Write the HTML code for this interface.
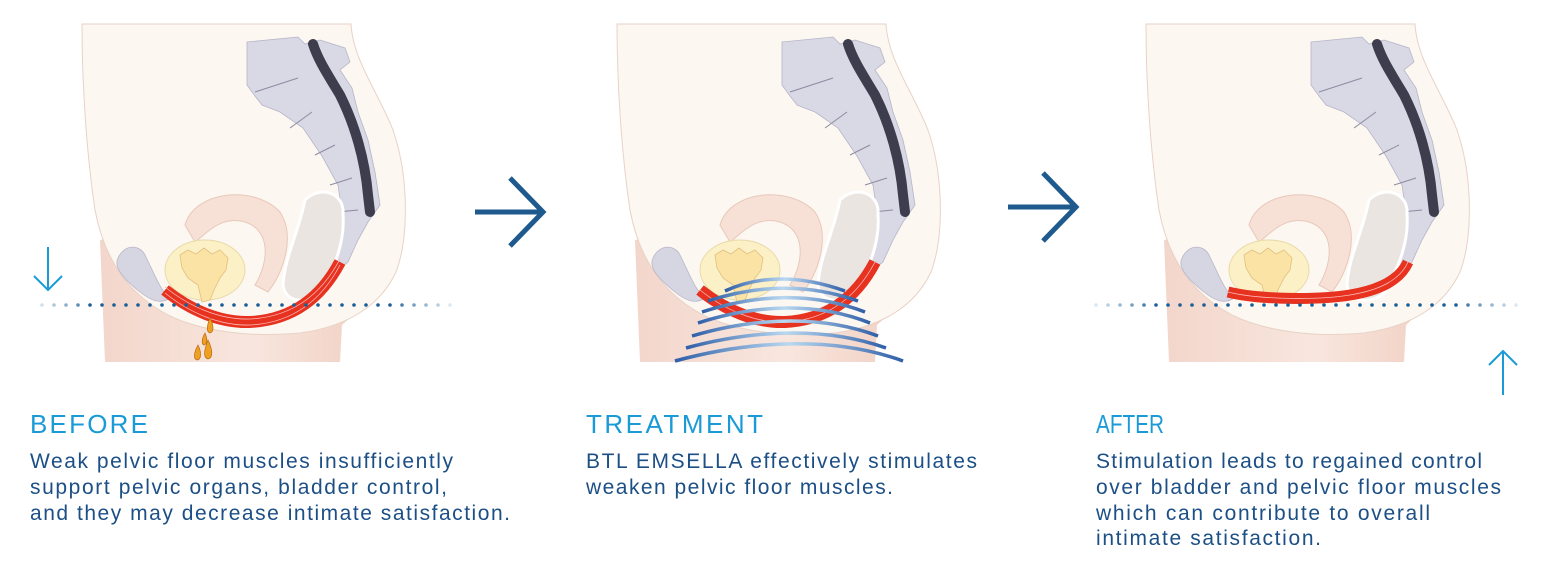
<!DOCTYPE html>
<html><head><meta charset="utf-8"><style>
html,body{margin:0;padding:0;background:#fff;}
svg{display:block;}
.h{font-family:"Liberation Sans",sans-serif;font-size:26px;fill:#1a9ad6;}
.t{font-family:"Liberation Sans",sans-serif;font-size:21px;fill:#1c4f86;}
</style></head><body>
<svg width="1552" height="575" viewBox="0 0 1552 575" xmlns="http://www.w3.org/2000/svg">
<defs>
<linearGradient id="leg" x1="0" x2="1" y1="0" y2="0">
<stop offset="0" stop-color="#f3d6cb"/><stop offset="0.5" stop-color="#f8e6de"/><stop offset="1" stop-color="#efc9ba"/></linearGradient>
<linearGradient id="wave" x1="0" x2="1"><stop offset="0" stop-color="#2f5fa8"/><stop offset="0.5" stop-color="#b9d8f0"/><stop offset="1" stop-color="#2f5fa8"/></linearGradient>
<g id="body">
<path d="M100,240 L105,362 L340,362 L342,325 C370,300 402,265 404,220 L404,190 Z" fill="url(#leg)"/>
<path d="M82,24 L351,24 C353,60 378,92 393,130 C410,180 408,240 396,272 C382,302 352,326 300,333 C250,338 200,331 168,315 C128,294 104,258 95,210 C86,150 82,80 82,24 Z" fill="#fcf7f1" stroke="#e9d2c6" stroke-width="1"/>
<path d="M247,42 L298,37 L305,44 L320,40 L345,48 L350,62 L340,70 L352,88 L358,112 L368,140 L375,172 L380,205 L368,222 L358,240 L348,262 L335,272 L320,290 L316,280 L330,262 L338,240 L342,212 L338,185 L322,156 L303,128 L280,112 L262,105 L255,96 L247,85 Z" fill="#d9d8e5" stroke="#b7b5c8" stroke-width="0.8"/>
<path d="M313,44 C318,60 328,75 340,95 C355,125 365,160 368,195 L370,212" fill="none" stroke="#3d3d4e" stroke-width="10" stroke-linecap="round"/>
<path d="M255,92 L298,78 M290,128 L312,112 M315,155 L335,145 M330,185 L352,178 M338,212 L358,210" stroke="#8d8ba0" stroke-width="1"/>
<path d="M185,225 C195,190 255,185 280,212 C295,235 285,270 268,292 L255,285 C270,260 270,230 245,222 C220,215 205,235 195,242 Z" fill="#f7e1d6" stroke="#e8c8ba" stroke-width="1"/>
<path d="M305,200 C320,185 345,192 343,215 C345,240 335,270 318,295 C300,305 285,300 283,285 C285,255 298,235 305,200 Z" fill="#ebe5e2" stroke="#fff" stroke-width="3"/>
<path d="M118,258 C125,243 140,245 145,255 C155,275 160,290 170,298 C160,305 150,300 140,292 C125,280 113,268 118,258 Z" fill="#d6d5e2" stroke="#b9b7c9" stroke-width="0.8"/>
<ellipse cx="205" cy="270" rx="40" ry="30" fill="#fcf0c6" stroke="#e8d9a8" stroke-width="1"/>
<path d="M180,255 L188,250 L196,254 L204,248 L212,254 L220,250 L228,258 L226,270 L220,278 L214,290 L210,300 L202,302 L198,285 L188,278 L182,268 Z" fill="#fbe3a6" stroke="#e0c080" stroke-width="0.8"/>
</g>
</defs>

<!-- panel 1 -->
<use href="#body"/>
<path d="M165,290 C190,310 220,323 250,322 C290,320 320,300 340,262" fill="none" stroke="#e6321f" stroke-width="12"/>
<path d="M165,290 C190,310 220,323 250,322 C290,320 320,300 340,262" fill="none" stroke="#fbb" stroke-width="0.8" transform="translate(0,-3)"/>
<path d="M165,290 C190,310 220,323 250,322 C290,320 320,300 340,262" fill="none" stroke="#fbb" stroke-width="0.8" transform="translate(0,3)"/>
<g fill="#f0a020" stroke="#b56a10" stroke-width="0.7">
<path d="M210,318 C214,326 214,332 210,333 C206,332 207,325 210,318Z"/>
<path d="M205,333 C208,340 207,344 204,345 C201,344 202,338 205,333Z"/>
<path d="M208,340 C213,350 213,358 208,359 C203,358 204,350 208,340Z"/>
<path d="M198,345 C202,353 201,360 197,360 C193,359 194,352 198,345Z"/>
</g>
<g fill="#1b5f96">
<circle cx="42" cy="305" r="1.8" opacity="0.2"/><circle cx="54" cy="305" r="1.8" opacity="0.35"/><circle cx="66" cy="305" r="1.8" opacity="0.5"/><circle cx="78" cy="305" r="1.8" opacity="0.7"/>
<circle cx="90" cy="305" r="1.8"/><circle cx="102" cy="305" r="1.8"/><circle cx="114" cy="305" r="1.8"/><circle cx="126" cy="305" r="1.8"/><circle cx="138" cy="305" r="1.8"/><circle cx="150" cy="305" r="1.8"/><circle cx="162" cy="305" r="1.8"/><circle cx="174" cy="305" r="1.8"/><circle cx="186" cy="305" r="1.8"/><circle cx="198" cy="305" r="1.8"/><circle cx="210" cy="305" r="1.8"/><circle cx="222" cy="305" r="1.8"/><circle cx="234" cy="305" r="1.8"/><circle cx="246" cy="305" r="1.8"/><circle cx="258" cy="305" r="1.8"/><circle cx="270" cy="305" r="1.8"/><circle cx="282" cy="305" r="1.8"/><circle cx="294" cy="305" r="1.8"/><circle cx="306" cy="305" r="1.8"/><circle cx="318" cy="305" r="1.8"/><circle cx="330" cy="305" r="1.8"/><circle cx="342" cy="305" r="1.8"/><circle cx="354" cy="305" r="1.8"/><circle cx="366" cy="305" r="1.8"/><circle cx="378" cy="305" r="1.8"/><circle cx="390" cy="305" r="1.8"/><circle cx="402" cy="305" r="1.8" opacity="0.8"/><circle cx="414" cy="305" r="1.8" opacity="0.6"/><circle cx="426" cy="305" r="1.8" opacity="0.45"/><circle cx="438" cy="305" r="1.8" opacity="0.3"/><circle cx="450" cy="305" r="1.8" opacity="0.15"/>
</g>
<path d="M48,247 L48,290 M34,276 L48,290 L62,276" fill="none" stroke="#1a9ad6" stroke-width="2"/>

<!-- arrows -->
<path d="M475,212 L543,212 M510,178 L543,212 L510,246" fill="none" stroke="#1e5a8e" stroke-width="5"/>
<path d="M1008,207 L1076,207 M1043,173 L1076,207 L1043,241" fill="none" stroke="#1e5a8e" stroke-width="5"/>

<!-- panel 2 -->
<g transform="translate(535,0)"><use href="#body"/>
<path d="M165,290 C190,310 220,323 250,322 C290,320 320,300 340,262" fill="none" stroke="#e6321f" stroke-width="12"/>
<path d="M165,290 C190,310 220,323 250,322 C290,320 320,300 340,262" fill="none" stroke="#fbb" stroke-width="0.8"/>
</g>
<g fill="none" stroke="url(#wave)" stroke-width="3.5">
<path d="M725,291 C760,275 800,275 845,291"/>
<path d="M708,301 C760,284 810,284 858,301"/>
<path d="M702,312 C760,293 815,293 865,312"/>
<path d="M698,323 C760,303 820,303 870,323"/>
<path d="M692,336 C760,316 825,316 878,336"/>
<path d="M686,348 C760,328 830,328 886,348"/>
<path d="M675,361 C760,338 840,338 903,361"/>
</g>

<!-- panel 3 -->
<g transform="translate(1064,0)"><use href="#body"/></g>
<path d="M1228,292 C1260,300 1320,300 1350,295 C1380,290 1400,280 1408,262" fill="none" stroke="#e6321f" stroke-width="11"/>
<path d="M1228,292 C1260,300 1320,300 1350,295 C1380,290 1400,280 1408,262" fill="none" stroke="#fbb" stroke-width="0.8"/>
<g fill="#1b5f96">
<circle cx="1096" cy="305" r="1.8" opacity="0.15"/><circle cx="1108" cy="305" r="1.8" opacity="0.3"/><circle cx="1120" cy="305" r="1.8" opacity="0.45"/><circle cx="1132" cy="305" r="1.8" opacity="0.6"/><circle cx="1144" cy="305" r="1.8" opacity="0.8"/>
<circle cx="1156" cy="305" r="1.8"/><circle cx="1168" cy="305" r="1.8"/><circle cx="1180" cy="305" r="1.8"/><circle cx="1192" cy="305" r="1.8"/><circle cx="1204" cy="305" r="1.8"/><circle cx="1216" cy="305" r="1.8"/><circle cx="1228" cy="305" r="1.8"/><circle cx="1240" cy="305" r="1.8"/><circle cx="1252" cy="305" r="1.8"/><circle cx="1264" cy="305" r="1.8"/><circle cx="1276" cy="305" r="1.8"/><circle cx="1288" cy="305" r="1.8"/><circle cx="1300" cy="305" r="1.8"/><circle cx="1312" cy="305" r="1.8"/><circle cx="1324" cy="305" r="1.8"/><circle cx="1336" cy="305" r="1.8"/><circle cx="1348" cy="305" r="1.8"/><circle cx="1360" cy="305" r="1.8"/><circle cx="1372" cy="305" r="1.8"/><circle cx="1384" cy="305" r="1.8"/><circle cx="1396" cy="305" r="1.8"/><circle cx="1408" cy="305" r="1.8"/><circle cx="1420" cy="305" r="1.8"/><circle cx="1432" cy="305" r="1.8"/><circle cx="1444" cy="305" r="1.8"/><circle cx="1456" cy="305" r="1.8"/><circle cx="1468" cy="305" r="1.8" opacity="0.8"/><circle cx="1480" cy="305" r="1.8" opacity="0.6"/><circle cx="1492" cy="305" r="1.8" opacity="0.45"/><circle cx="1504" cy="305" r="1.8" opacity="0.3"/><circle cx="1516" cy="305" r="1.8" opacity="0.15"/>
</g>
<path d="M1503,395 L1503,351 M1489,365 L1503,351 L1517,365" fill="none" stroke="#1a9ad6" stroke-width="2"/>

<!-- text -->
<text class="h" x="30" y="433" textLength="118">BEFORE</text>
<text class="t" x="30" y="468" textLength="423">Weak pelvic floor muscles insufficiently</text>
<text class="t" x="30" y="494" textLength="417">support pelvic organs, bladder control,</text>
<text class="t" x="30" y="520" textLength="480">and they may decrease intimate satisfaction.</text>

<text class="h" x="586" y="433" textLength="177">TREATMENT</text>
<text class="t" x="586" y="468" textLength="391">BTL EMSELLA effectively stimulates</text>
<text class="t" x="586" y="494" textLength="307">weaken pelvic floor muscles.</text>

<text class="h" x="1096" y="433" textLength="68" lengthAdjust="spacingAndGlyphs">AFTER</text>
<text class="t" x="1096" y="468" textLength="386">Stimulation leads to regained control</text>
<text class="t" x="1096" y="494" textLength="405">over bladder and pelvic floor muscles</text>
<text class="t" x="1096" y="520" textLength="334">which can contribute to overall</text>
<text class="t" x="1096" y="545" textLength="225">intimate satisfaction.</text>
</svg>
</body></html>
